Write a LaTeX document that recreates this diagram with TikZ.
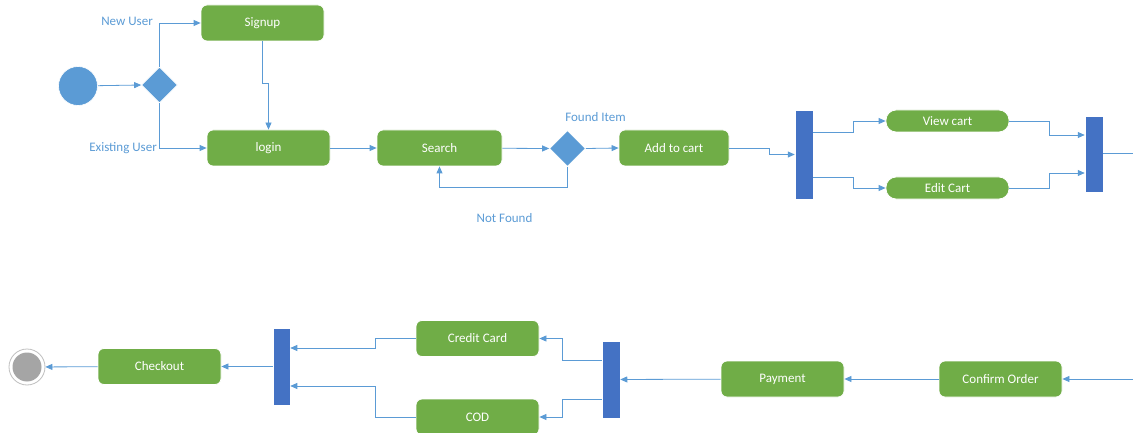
\documentclass[tikz,border=0pt]{standalone}
\usepackage{fontspec}
\setmainfont{Carlito}
\usetikzlibrary{arrows.meta,shapes.geometric,calc}
\definecolor{actgreen}{HTML}{70AD47}
\definecolor{flowblue}{HTML}{5B9BD5}
\definecolor{barblue}{HTML}{4472C4}
\definecolor{endgray}{HTML}{A5A5A5}
\tikzset{
  activity/.style={rectangle, rounded corners=6pt, fill=actgreen, draw=white, line width=0.8pt,
    minimum width=123pt, minimum height=36pt, text=white, inner sep=0pt,
    font=\fontsize{13}{15}\selectfont},
  smallact/.style={activity, rounded corners=10pt, minimum height=22pt},
  decision/.style={diamond, aspect=1, fill=flowblue, draw=white, line width=0.6pt,
    minimum width=36pt, minimum height=36pt, inner sep=0pt},
  syncbar/.style={rectangle, fill=barblue, draw=white, line width=0.5pt,
    minimum width=18pt, inner sep=0pt},
  guard/.style={text=flowblue, font=\fontsize{13}{15}\selectfont, inner sep=0pt},
  flow/.style={draw=flowblue, line width=0.8pt, -{Triangle[length=7pt,width=6pt]}},
  plainflow/.style={draw=flowblue, line width=0.8pt},
}
\begin{document}
\begin{tikzpicture}[x=1pt, y=-1pt]
\useasboundingbox (0,0) rectangle (1133,433);

% ---- upper row: start, sign-in, search, cart ----
\node (start) [circle, fill=flowblue, draw=white, line width=0.6pt, minimum size=39pt, inner sep=0pt] at (78,86) {};
\node (userq) [decision] at (159.5,85) {};
\node (signup) [activity] at (262.5,23) {Signup};
\node (login) [activity] at (268.5,148) {login};
\node (search) [activity, minimum width=125pt] at (439.5,148) {Search};
\node (itemq) [decision] at (567.5,148.5) {};
\node (addcart) [activity, minimum width=110pt] at (674,148) {Add to cart};
\node (fork1) [syncbar, minimum height=89pt] at (804,154.5) {};
\node (view) [smallact] at (947.5,121) {View cart};
\node (edit) [smallact] at (947.5,188) {Edit Cart};
\node (join1) [syncbar, minimum height=76pt] at (1094,154) {};
\coordinate (rowend) at (1133,153);

\node [guard, anchor=east] at (153,21) {New User};
\node [guard, anchor=east] at (157,148) {Existing User};
\node [guard] at (595.5,117) {Found Item};
\node [guard] at (504.5,218) {Not Found};

\draw[flow] (start) -- (userq.west);
\draw[flow] (userq.north) |- (signup.west);
\draw[flow] (userq.south) |- (login.west);
\draw[flow] (signup.south) -- ++(0,42) -| (login.north);
\draw[flow] (login) -- (search);
\draw[flow] (search) -- (itemq.west);
\draw[flow] (itemq.east) -- (addcart.west);
\draw[flow] (itemq.south) -- ++(0,21) -| (search.south);
\draw[flow] (addcart.east) -- ++(40,0) |- (fork1.west);
\draw[flow] ([yshift=22.5pt]fork1.east) -- ++(40,0) |- (view.west);
\draw[flow] ([yshift=-22.5pt]fork1.east) -- ++(40,0) |- (edit.west);
\draw[flow] (view.east) -- ++(40,0) |- ([yshift=19pt]join1.west);
\draw[flow] (edit.east) -- ++(40,0) |- ([yshift=-19pt]join1.west);
\draw[plainflow] (join1.east |- rowend) -- (rowend);

% ---- lower row: order, payment, checkout ----
\coordinate (rowstart) at (1133,379);
\node (confirm) [activity] at (1000.5,379) {Confirm Order};
\node (payment) [activity] at (782.5,379) {Payment};
\node (fork2) [syncbar, minimum height=77pt] at (611,379.5) {};
\node (card) [activity] at (477.5,338.5) {Credit Card};
\node (cod) [activity] at (477.5,417) {COD};
\node (join2) [syncbar, minimum height=77pt, minimum width=17pt] at (281.5,366.5) {};
\node (checkout) [activity] at (159.5,366.5) {Checkout};
\node (final) [circle, draw=black!25, line width=0.8pt, fill=white, minimum size=36pt, inner sep=0pt] at (27,367) {};
\node [circle, fill=endgray, minimum size=29pt, inner sep=0pt] at (final) {};

\draw[flow] (rowstart) -- (confirm.east);
\draw[flow] (confirm) -- (payment);
\draw[flow] (payment) -- (fork2);
\draw[flow] ([yshift=19.5pt]fork2.west) -- ++(-39,0) |- (card.east);
\draw[flow] ([yshift=-19.5pt]fork2.west) -- ++(-39,0) |- (cod.east);
\draw[flow] (card.west) -- ++(-40,0) |- ([yshift=18.5pt]join2.east);
\draw[flow] (cod.west) -- ++(-40,0) |- ([yshift=-19.5pt]join2.east);
\draw[flow] (join2) -- (checkout);
\draw[flow] (checkout) -- (final);
\end{tikzpicture}
\end{document}
